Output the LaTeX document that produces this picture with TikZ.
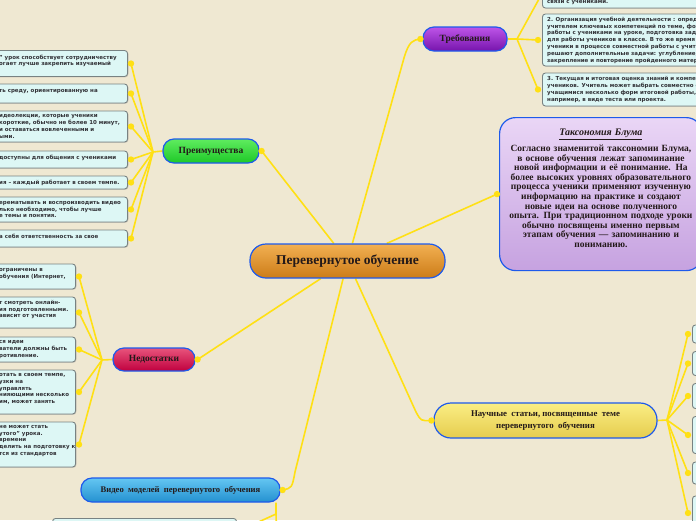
\documentclass[tikz,border=0pt]{standalone}
\usepackage{fontspec}
\setmainfont{Liberation Serif}
\newfontfamily\leaffont{DejaVu Sans}
\usetikzlibrary{shadows,backgrounds}
\definecolor{paper}{RGB}{239,232,210}
\definecolor{linky}{RGB}{255,224,20}
\definecolor{leafc}{RGB}{221,247,245}
\definecolor{leafb}{RGB}{120,130,130}
\definecolor{rimblue}{RGB}{30,90,235}
\definecolor{inkc}{RGB}{35,25,25}
\definecolor{leafink}{RGB}{50,50,55}

\tikzset{
  link/.style={linky,line width=1.6pt},
  leaf/.style={draw=leafb,line width=0.9pt,fill=leafc,rounded corners=3pt,
    drop shadow={shadow xshift=0.8pt,shadow yshift=-0.8pt,opacity=0.3}},
  leaftext/.style={align=left,inner sep=0pt,text=leafink,
    font=\leaffont\bfseries\fontsize{5.5}{6.8}\selectfont},
  pill/.style={draw=rimblue,line width=1.2pt,rounded corners=11pt,align=center,
    inner sep=0pt,text=inkc,font=\bfseries\fontsize{9.5}{12}\selectfont},
}
\newcommand\dotat[1]{\fill[linky] (#1) circle (3.2pt);}

\begin{document}
\begin{tikzpicture}[x=1pt,y=-1pt]
\useasboundingbox (0,0) rectangle (696,520);
\begin{pgfonlayer}{background}
\fill[paper] (0,0) rectangle (696,520);
\end{pgfonlayer}
\clip (0,0) rectangle (696,520);

% main branches
\node[pill,minimum width=195pt,minimum height=34pt,rounded corners=16pt,
  top color={rgb,255:red,242;green,176;blue,82},bottom color={rgb,255:red,204;green,124;blue,24},
  font=\bfseries\fontsize{13.5}{16}\selectfont] (central) at (347.5,261) {Перевернутое обучение};
\node[pill,minimum width=96pt,minimum height=24pt,
  top color={rgb,255:red,95;green,236;blue,95},bottom color={rgb,255:red,30;green,200;blue,40}] (pre) at (211,151) {Преимущества};
\node[pill,minimum width=84pt,minimum height=24pt,
  top color={rgb,255:red,190;green,85;blue,232},bottom color={rgb,255:red,118;green,20;blue,172}] (tre) at (465,39) {Требования};
\node[pill,minimum width=82pt,minimum height=23pt,
  top color={rgb,255:red,232;green,84;blue,124},bottom color={rgb,255:red,192;green,0;blue,62}] (ned) at (154,359.5) {Недостатки};
\node[pill,minimum width=199pt,minimum height=24pt,
  top color={rgb,255:red,100;green,198;blue,242},bottom color={rgb,255:red,36;green,145;blue,208},
  font=\bfseries\fontsize{8.6}{11}\selectfont] (vid) at (180.5,490) {Видео\ \ моделей\ \ перевернутого\ \ обучения};
\node[pill,minimum width=223pt,minimum height=35pt,rounded corners=17pt,
  top color={rgb,255:red,250;green,238;blue,132},bottom color={rgb,255:red,230;green,204;blue,78},
  font=\bfseries\fontsize{8.8}{12}\selectfont] (sci) at (545.5,420.5) {Научные\ \ статьи,\ посвященные\ \ теме\\перевернутого\ \ обучения};
\node[draw=rimblue,line width=1.2pt,rounded corners=16pt,anchor=north west,
  minimum width=201pt,minimum height=153pt,text width=196pt,align=center,text=inkc,
  top color={rgb,255:red,234;green,214;blue,246},bottom color={rgb,255:red,198;green,162;blue,224},
  font=\bfseries\fontsize{9.5}{9.6}\selectfont] (tax) at (499,117) {%
  {\fontsize{10}{12}\selectfont\bfseries\itshape\underline{Таксономия Блума}}\\[4pt]
  Согласно знаменитой таксономии Блума,\\
  в основе обучения лежат запоминание\\
  новой информации и её понимание. На\\
  более высоких уровнях образовательного\\
  процесса ученики применяют изученную\\
  информацию на практике и создают\\
  новые идеи на основе полученного\\
  опыта. При традиционном подходе уроки\\
  обычно посвящены именно первым\\
  этапам обучения — запоминанию и\\
  пониманию.\\[2pt]\mbox{}};

% Преимущества
\node[leaf,minimum width=140pt,minimum height=26pt,anchor=east] (p1) at (128,63.5) {};
\node[leaftext,anchor=west] (p1t) at (-1,61) {” урок способствует сотрудничеству\\огает лучше закрепить изучаемый};
\node[leaf,minimum width=140pt,minimum height=19pt,anchor=east] (p2) at (128,93.5) {};
\node[leaftext,anchor=west] (p2t) at (-1,92) {ть среду, ориентированную на};
\node[leaf,minimum width=140pt,minimum height=31pt,anchor=east] (p3) at (128,126.5) {};
\node[leaftext,anchor=west] (p3t) at (-1,126.5) {идеолекции, которые ученики\\короткие, обычно не более 10 минут,\\ и оставаться вовлеченными и\\ыми.};
\node[leaf,minimum width=140pt,minimum height=17pt,anchor=east] (p4) at (128,159.5) {};
\node[leaftext,anchor=west] (p4t) at (-1,157.5) {доступны для общения с учениками};
\node[leaf,minimum width=140pt,minimum height=13pt,anchor=east] (p5) at (128,182.5) {};
\node[leaftext,anchor=west] (p5t) at (-1,183) {ия – каждый работает в своем темпе.};
\node[leaf,minimum width=140pt,minimum height=25pt,anchor=east] (p6) at (128,209.5) {};
\node[leaftext,anchor=west] (p6t) at (-1,209.5) {ерематывать и воспроизводить видео\\лько необходимо, чтобы лучше\\е темы и понятия.};
\node[leaf,minimum width=140pt,minimum height=17pt,anchor=east] (p7) at (128,238.5) {};
\node[leaftext,anchor=west] (p7t) at (-1,236.5) {а себя ответственность за свое};

% Недостатки
\node[leaf,minimum width=90pt,minimum height=25pt,anchor=east] (n1) at (76,276.5) {};
\node[leaftext,anchor=west] (n1t) at (-1,274) {ограничены в\\обучения (Интернет,};
\node[leaf,minimum width=90pt,minimum height=31pt,anchor=east] (n2) at (76,312.5) {};
\node[leaftext,anchor=west] (n2t) at (-1,309.5) {т смотреть онлайн-\\ия подготовленными.\\ависит от участия};
\node[leaf,minimum width=90pt,minimum height=25pt,anchor=east] (n3) at (76,349.5) {};
\node[leaftext,anchor=west] (n3t) at (-1,349.5) {ся идеи\\ватели должны быть\\ротивление.};
\node[leaf,minimum width=90pt,minimum height=44pt,anchor=east] (n4) at (76,392) {};
\node[leaftext,anchor=west] (n4t) at (-1,389) {отать в своем темпе,\\узки на\\управлять\\нияющими несколько\\им, может занять};
\node[leaf,minimum width=90pt,minimum height=45pt,anchor=east] (n5) at (76,444.5) {};
\node[leaftext,anchor=west] (n5t) at (-1,441) {не может стать\\утого” урока.\\времени\\делить на подготовку к\\тся из стандартов};

% Требования
\node[leaf,minimum width=200pt,minimum height=28pt,anchor=west] (t1) at (542,-6) {};
\node[leaftext,anchor=west] (t1t) at (547,2.5) {связи с учениками.};
\node[leaf,minimum width=200pt,minimum height=52pt,anchor=west] (t2) at (542,40) {};
\node[leaftext,anchor=west] (t2t) at (547,40) {2. Организация учебной деятельности : определение\\
  учителем ключевых компетенций по теме, формы\\
  работы с учениками на уроке, подготовка задания\\
  для работы учеников в классе. В то же время\\
  ученики в процессе совместной работы с учителем\\
  решают дополнительные задачи: углубление,\\
  закрепление и повторение пройденного материала.};
\node[leaf,minimum width=200pt,minimum height=33pt,anchor=west] (t3) at (542,89.5) {};
\node[leaftext,anchor=west] (t3t) at (547,89.5) {3. Текущая и итоговая оценка знаний и компетенций\\
  учеников. Учитель может выбрать совместно с\\
  учащимися несколько форм итоговой работы,\\
  например, в виде теста или проекта.};

% Научные статьи
\node[leaf,minimum width=60pt,minimum height=18pt,anchor=west] (s1) at (692,334) {};
\node[leaf,minimum width=60pt,minimum height=24pt,anchor=west] (s2) at (692,363.5) {};
\node[leaf,minimum width=60pt,minimum height=25pt,anchor=west] (s3) at (692,396) {};
\node[leaf,minimum width=60pt,minimum height=37pt,anchor=west] (s4) at (692,435) {};
\node[leaf,minimum width=60pt,minimum height=22pt,anchor=west] (s5) at (692,473) {};
\node[leaf,minimum width=60pt,minimum height=34pt,anchor=west] (s6) at (692,513) {};

% Видео
\node[leaf,minimum width=184pt,minimum height=24pt,anchor=north east] (v1) at (237,518) {};

\coordinate (hubP) at (153,152);
\coordinate (hubN) at (102,360);
\coordinate (hubT) at (517,39);
\coordinate (hubS) at (667,420);
\coordinate (hubV) at (276,514);
\coordinate (vdown) at (277,545);

\begin{pgfonlayer}{background}
\draw[link] (central) -- ([xshift=2pt]pre.east);
\draw[link] (central) -- (404,58) .. controls (409,41) and (413,40) .. ([xshift=-2pt]tre.west);
\draw[link] (central) -- ([xshift=-2pt]tax.west);
\draw[link] (central) -- ([xshift=2pt]ned.east);
\draw[link] (central) -- (295,472) .. controls (292,488) .. ([xshift=2pt]vid.east);
\draw[link] (central) -- (416,412) .. controls (421,421) .. ([xshift=-2pt]sci.west);
\draw[link] (pre.west) -- (hubP);
\draw[link] (ned.west) -- (hubN);
\draw[link] (tre.east) -- (hubT);
\draw[link] (sci.east) -- (hubS);
\draw[link] (vid.south -| hubV) -- (hubV) -- (vdown);
\foreach \n in {p1,p2,p3,p4,p5,p6,p7} {
  \draw[link] (hubP) -- ([xshift=3pt]\n.east);
}
\foreach \n in {n1,n2,n3,n4,n5} {
  \draw[link] (hubN) -- ([xshift=3pt]\n.east);
}
\draw[link] (hubT) -- ([xshift=-3pt,yshift=-5pt]t1.west);
\draw[link] (hubT) -- ([xshift=-4pt]t2.west);
\draw[link] (hubT) -- ([xshift=-4pt]t3.west);
\foreach \n in {s1,s2,s3,s4,s5,s6} {
  \draw[link] (hubS) -- ([xshift=-4pt]\n.west);
}
\draw[link] (hubV) -- ([xshift=3pt]v1.east);
\end{pgfonlayer}

% dots
\foreach \n in {p1,p2,p3,p4,p5,p6,p7,n1,n2,n3,n4,n5,v1} {
  \dotat{[xshift=3pt]\n.east}
}
\foreach \n in {t2,t3,s1,s2,s3,s4,s5,s6} {
  \dotat{[xshift=-4pt]\n.west}
}
\dotat{[xshift=2pt]pre.east}
\dotat{[xshift=2pt]ned.east}
\dotat{[xshift=2pt]vid.east}
\dotat{[xshift=-2pt]tre.west}
\dotat{[xshift=-2pt]tax.west}
\dotat{[xshift=-2pt]sci.west}
\end{tikzpicture}
\end{document}
